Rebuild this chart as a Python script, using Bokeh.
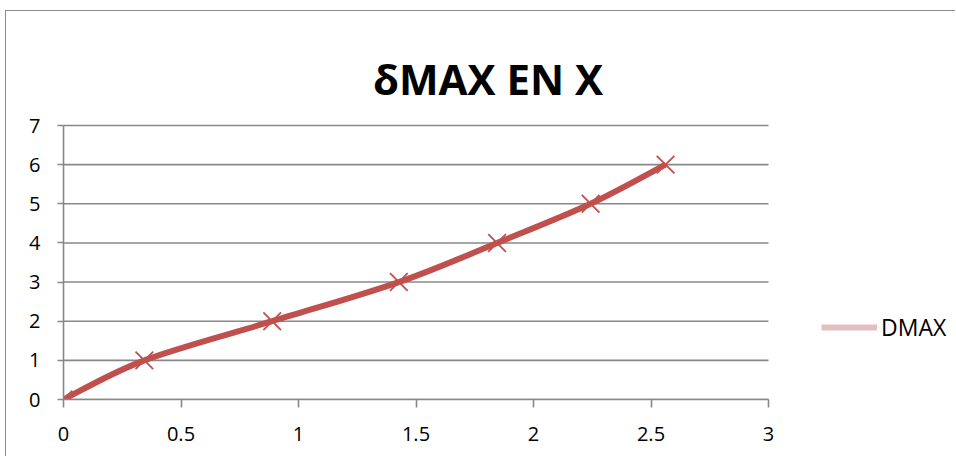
from bokeh.plotting import figure
from bokeh.models import Legend, LegendItem, FixedTicker, Range1d, Label
from bokeh.embed import file_html
from bokeh.resources import INLINE

# data
x_vals = [0, 0.344, 0.888, 1.427, 1.845, 2.243, 2.562]
y_vals = [0, 1, 2, 3, 4, 5, 6]
series_name = "DMAX"
title_text = "δMAX EN X"
x_ticks = [0, 0.5, 1, 1.5, 2, 2.5, 3]
y_ticks = [0, 1, 2, 3, 4, 5, 6, 7]

LINE = "#C0504D"
GRID = "#888888"
FONT = "Open Sans"

W, H = 950, 446
LEFT, BOTTOM = 57, 58
PX_X = 235.0          # pixels per x unit
PX_Y = 274.0 / 7.0    # pixels per y unit

p = figure(width=W, height=H, output_backend="svg", toolbar_location=None,
           x_range=Range1d(0, (W - LEFT) / PX_X),
           y_range=Range1d(0, (H - BOTTOM) / PX_Y),
           min_border_left=LEFT, min_border_right=0, min_border_top=0,
           min_border_bottom=BOTTOM)
p.outline_line_color = None
p.background_fill_color = "white"
p.border_fill_color = "white"

# horizontal gridlines limited to the axis extent
p.segment(x0=[x_ticks[0]] * len(y_ticks), x1=[x_ticks[-1]] * len(y_ticks),
          y0=y_ticks, y1=y_ticks, line_color=GRID, line_width=1.6)

# smooth curve (Excel-like Bezier smoothing) built from data points
n = len(x_vals)
x0s, y0s, x1s, y1s, cx0, cy0, cx1, cy1 = [], [], [], [], [], [], [], []
t = 1.0 / 6.0
for i in range(n - 1):
    pxm = x_vals[i - 1] if i > 0 else x_vals[i]
    pym = y_vals[i - 1] if i > 0 else y_vals[i]
    pxp = x_vals[i + 2] if i + 2 < n else x_vals[i + 1]
    pyp = y_vals[i + 2] if i + 2 < n else y_vals[i + 1]
    x0s.append(x_vals[i]); y0s.append(y_vals[i])
    x1s.append(x_vals[i + 1]); y1s.append(y_vals[i + 1])
    cx0.append(x_vals[i] + (x_vals[i + 1] - pxm) * t)
    cy0.append(y_vals[i] + (y_vals[i + 1] - pym) * t)
    cx1.append(x_vals[i + 1] - (pxp - x_vals[i]) * t)
    cy1.append(y_vals[i + 1] - (pyp - y_vals[i]) * t)

p.bezier(x0=x0s, y0=y0s, x1=x1s, y1=y1s, cx0=cx0, cy0=cy0, cx1=cx1, cy1=cy1,
         line_color=LINE, line_width=6)
p.scatter(x_vals, y_vals, marker="x", size=25, line_color=LINE, line_width=1.8)

# legend proxy (kept off-screen)
proxy = p.line([-5, -4], [-5, -5], line_color="#E3BFBF", line_width=6)
legend = Legend(items=[LegendItem(label=series_name, renderers=[proxy])],
                location=(758, 56), border_line_color=None,
                background_fill_alpha=0, glyph_width=56, glyph_height=30,
                label_height=30, label_standoff=4, padding=0, margin=0,
                label_text_font=FONT, label_text_font_size="23px",
                label_text_color="black")
p.add_layout(legend, "center")

# title
title = Label(x=(487.5 - 63) / PX_X, y=(399 - 78) / PX_Y, text=title_text,
              text_font=FONT, text_font_size="42px", text_font_style="bold",
              text_align="center", text_baseline="alphabetic", text_color="black")
p.add_layout(title)

# axes
for ax in (p.xaxis[0], p.yaxis[0]):
    ax.axis_line_color = GRID
    ax.axis_line_width = 1.6
    ax.major_tick_line_color = GRID
    ax.major_tick_line_width = 1.6
    ax.major_tick_in = 0
    ax.minor_tick_line_color = None
    ax.major_label_text_font = FONT
    ax.major_label_text_font_size = "20px"
    ax.major_label_text_color = "black"

p.xaxis.ticker = FixedTicker(ticks=x_ticks)
p.yaxis.ticker = FixedTicker(ticks=y_ticks)
p.xaxis.bounds = (x_ticks[0], x_ticks[-1])
p.yaxis.bounds = (y_ticks[0], y_ticks[-1])
p.xaxis.major_tick_out = 8
p.yaxis.major_tick_out = 6
p.xaxis.major_label_standoff = 19
p.yaxis.major_label_standoff = 17

p.xgrid.grid_line_color = None
p.ygrid.grid_line_color = None

p.styles = {"margin-left": "5px", "margin-top": "10px",
            "border-left": "1px solid #8C8C8C", "border-top": "1px solid #8C8C8C"}

open("out.html", "w").write(file_html(p, INLINE))
